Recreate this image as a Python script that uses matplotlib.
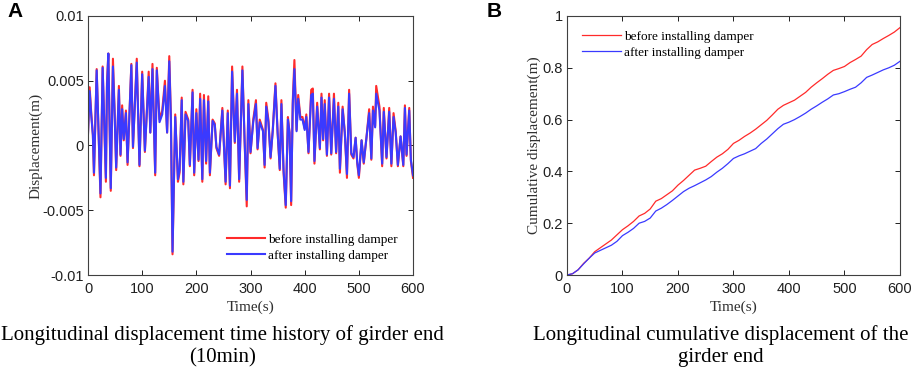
import numpy as np
import matplotlib
matplotlib.use("Agg")
import matplotlib.pyplot as plt

# panel A: displacement time history (values in mm)
time_a = [0, 3, 6, 9, 11, 16, 23, 27, 31, 33,
          35, 37.5, 42, 46, 49, 52, 57, 60, 63, 66,
          70, 73, 80, 83, 90, 95, 100, 105, 112, 115,
          119, 124, 127, 132, 137, 142, 146, 150, 153, 156,
          161, 166, 169, 173, 176, 180, 185, 188, 193, 196,
          200, 204, 207, 211, 214, 218, 222, 225, 230, 234,
          237, 242, 248, 254, 258, 262, 266, 271, 275, 279,
          285, 289, 293, 296, 300, 305, 310, 313, 317, 323,
          326, 329, 333, 337, 341, 346, 350, 354, 357, 361,
          365, 369, 372, 375, 378, 381, 385, 388, 392, 396,
          400, 403, 407, 412, 415, 418, 423, 428, 431, 434,
          437, 441, 445, 449, 454, 458, 462, 465, 470, 474,
          478, 482, 486, 490, 494, 497, 500, 505, 509, 514,
          519, 523, 526, 530, 532, 538, 543, 546, 551, 556,
          560, 564, 568, 572, 577, 582, 585, 588, 593, 596,
          600]
before_mm = [1.0, 4.5, 2.5, 0.8, -2.3, 5.9, -4.0, 6.1, 0.2, -2.8,
             4.8, 7.1, -3.5, 6.7, 2.8, -1.9, 4.6, -0.8, 3.1, 0.4,
             2.7, -1.5, 6.3, -0.2, 6.7, -1.6, 5.7, -0.5, 5.7, 1.0,
             6.3, -2.3, 6.0, 2.0, 2.7, 5.0, 1.0, 6.9, 2.2, -8.4,
             2.4, -2.8, -2.1, 3.7, -3.0, 2.6, 2.0, -1.6, 4.3, -2.3,
             2.8, -1.2, 4.0, -2.8, 3.9, -1.4, 3.8, -2.3, 2.0, 1.7,
             -0.2, -0.8, 2.9, -3.0, 2.7, -3.3, 6.1, 0.2, 4.3, -2.8,
             6.1, 0.4, -4.7, 3.5, -0.6, 2.0, 3.5, -0.3, 2.0, 1.2,
             -1.7, 3.3, 2.0, -1.0, 1.2, 4.8, 1.0, -1.9, 3.5, -2.1,
             -4.8, 2.2, 1.0, -4.6, 3.5, 6.6, 1.2, 3.9, 2.2, 2.2,
             1.3, 2.4, -0.6, 4.3, 4.4, -1.4, 3.3, -0.3, 4.0, 0.4,
             3.5, -0.8, 4.0, -0.7, 4.0, -0.6, 3.3, -2.1, 3.0, 1.0,
             -2.5, 4.3, -0.7, -1.0, 0.6, -1.4, -2.5, 0.4, -1.4, 0.6,
             2.8, -1.1, 3.0, 1.5, 4.6, 3.0, -1.6, 2.9, -1.0, 2.9,
             -1.6, 2.5, 1.1, -1.6, 0.7, -1.6, 3.1, -0.8, 2.9, -1.2,
             -2.5]
after_mm = [0.9, 4.2, 2.3, 0.8, -2.1, 5.8, -3.7, 6.0, 0.3, -2.5,
            4.5, 7.1, -3.3, 6.1, 2.6, -1.7, 4.3, -0.7, 2.8, 0.5,
            2.5, -1.3, 6.2, -0.1, 6.4, -1.5, 5.5, -0.4, 5.3, 1.0,
            5.9, -2.1, 5.8, 1.8, 2.4, 4.6, 1.0, 6.5, 2.0, -8.2,
            2.2, -2.6, -1.9, 3.5, -2.8, 2.4, 1.9, -1.5, 4.1, -2.1,
            2.5, -1.1, 3.6, -2.6, 3.5, -1.2, 3.4, -2.1, 1.9, 1.6,
            -0.1, -0.7, 2.7, -2.8, 2.5, -3.1, 5.7, 0.3, 4.0, -2.6,
            5.8, 0.5, -4.2, 3.2, -0.5, 1.8, 3.2, -0.2, 1.8, 1.1,
            -1.5, 3.0, 1.8, -0.9, 1.1, 4.6, 1.0, -1.8, 3.2, -1.9,
            -4.6, 2.0, 1.0, -4.3, 3.2, 5.9, 1.1, 3.6, 2.0, 2.0,
            1.2, 2.2, -0.5, 3.9, 4.0, -1.2, 3.0, -0.2, 3.7, 0.5,
            3.2, -0.7, 3.7, -0.6, 3.6, -0.5, 3.0, -1.8, 2.8, 1.0,
            -2.2, 4.0, -0.6, -0.9, 0.6, -1.3, -2.3, 0.4, -1.3, 0.6,
            2.5, -1.0, 2.7, 1.4, 4.0, 2.7, -1.4, 2.6, -0.9, 2.6,
            -1.4, 2.2, 1.0, -1.5, 0.7, -1.5, 2.9, -0.7, 2.7, -1.1,
            -2.3]

# panel B: cumulative displacement every 10 s
time_b = np.arange(0, 601, 10)
cum_before = [0, 0.005, 0.02, 0.045, 0.065, 0.09, 0.105, 0.12, 0.135, 0.155,
              0.175, 0.19, 0.207, 0.228, 0.238, 0.255, 0.285, 0.295, 0.31, 0.325,
              0.347, 0.365, 0.385, 0.405, 0.412, 0.42, 0.438, 0.455, 0.468, 0.485,
              0.508, 0.52, 0.535, 0.548, 0.563, 0.58, 0.597, 0.618, 0.64, 0.655,
              0.665, 0.675, 0.69, 0.705, 0.725, 0.742, 0.758, 0.775, 0.79, 0.797,
              0.805, 0.82, 0.832, 0.845, 0.87, 0.89, 0.9, 0.913, 0.925, 0.938,
              0.955]
cum_after = [0, 0.005, 0.02, 0.043, 0.065, 0.085, 0.095, 0.105, 0.115, 0.13,
             0.152, 0.165, 0.18, 0.2, 0.207, 0.22, 0.247, 0.258, 0.272, 0.288,
             0.305, 0.322, 0.335, 0.345, 0.356, 0.367, 0.38, 0.397, 0.412, 0.43,
             0.45, 0.46, 0.468, 0.478, 0.488, 0.508, 0.525, 0.545, 0.565, 0.582,
             0.59, 0.6, 0.612, 0.625, 0.64, 0.653, 0.667, 0.68, 0.695, 0.7,
             0.708, 0.717, 0.725, 0.742, 0.763, 0.772, 0.782, 0.792, 0.8, 0.81,
             0.825]

labels = ["before installing damper", "after installing damper"]
RED = "#ff2a2a"
BLUE = "#3a3aff"
SERIF = "Liberation Serif"
SANS = "Liberation Sans"

plt.rcParams["font.family"] = SANS
fig = plt.figure(figsize=(9.13, 3.69), dpi=100)
axA = fig.add_axes([0.0964, 0.2547, 0.356, 0.702])
axB = fig.add_axes([0.621, 0.2547, 0.3647, 0.702])

def style(ax):
    ax.tick_params(direction="in", top=True, right=True, length=3.5, width=0.7,
                   labelsize=10.5, colors="#202020")
    ax.tick_params(axis="x", pad=5)
    ax.tick_params(axis="y", pad=3)
    for s in ax.spines.values():
        s.set_linewidth(0.8)
        s.set_color("#404040")
    ax.set_xlabel("Time(s)", fontfamily=SERIF, fontsize=11, labelpad=3,
                  color="#303030")

leg_kw = dict(frameon=False, prop={"family": SERIF, "size": 9.5},
              handlelength=2.9, handletextpad=0.25, labelspacing=0.3,
              borderaxespad=0, borderpad=0.4)

# left panel
axA.plot(time_a, np.array(before_mm) / 1000, color=RED, lw=1.5, label=labels[0])
axA.plot(time_a, np.array(after_mm) / 1000, color=BLUE, lw=1.5, label=labels[1])
axA.set_xlim(0, 600)
axA.set_ylim(-0.01, 0.01)
axA.set_yticks([-0.01, -0.005, 0, 0.005, 0.01])
axA.set_yticklabels(["-0.01", "-0.005", "0", "0.005", "0.01"])
axA.set_ylabel("Displacement(m)", fontfamily=SERIF, fontsize=11, labelpad=0,
               color="#303030")
style(axA)
axA.legend(loc="lower right", bbox_to_anchor=(0.97, 0.03), **leg_kw)

# right panel
axB.plot(time_b, cum_before, color=RED, lw=0.9, label=labels[0])
axB.plot(time_b, cum_after, color=BLUE, lw=0.9, label=labels[1])
axB.set_xlim(0, 600)
axB.set_ylim(0, 1)
axB.set_yticks([0, 0.2, 0.4, 0.6, 0.8, 1])
axB.set_yticklabels(["0", "0.2", "0.4", "0.6", "0.8", "1"])
axB.set_ylabel("Cumulative displacement(m)", fontfamily=SERIF, fontsize=11,
               labelpad=1, color="#303030")
style(axB)
axB.legend(loc="upper left", bbox_to_anchor=(0.03, 0.965), **leg_kw)

# panel letters and captions
fig.text(0.008, 0.995, "A", fontsize=15, fontweight="bold", va="top", ha="left")
fig.text(0.533, 0.995, "B", fontsize=15, fontweight="bold", va="top", ha="left")
fig.text(0.244, 0.062, "Longitudinal displacement time history of girder end\n(10min)",
         fontfamily=SERIF, fontsize=15, ha="center", va="center", linespacing=1.2)
fig.text(0.789, 0.062, "Longitudinal cumulative displacement of the\ngirder end",
         fontfamily=SERIF, fontsize=15, ha="center", va="center", linespacing=1.2)

plt.savefig("out.png", dpi=100)
